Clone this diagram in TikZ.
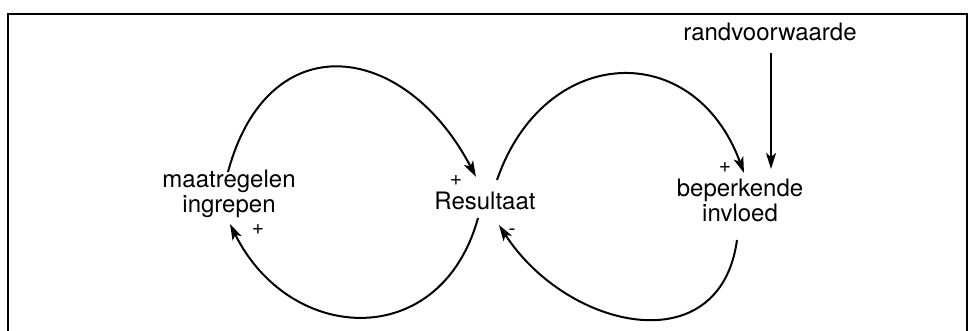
\documentclass[tikz,border=0pt]{standalone}
\usepackage{fontspec}
\setmainfont{TeX Gyre Heros}
\usetikzlibrary{arrows.meta}
\begin{document}
\begin{tikzpicture}[x=1pt,y=-1pt,
  lbl/.style={font=\fontsize{24}{25}\selectfont, inner sep=0pt, align=center},
  sgn/.style={font=\fontsize{21}{22}\selectfont, inner sep=0pt},
  link/.style={line width=2pt, -{Stealth[length=16pt,width=10pt,inset=4pt]}},
  frame/.style={line width=1.5pt}
]
\useasboundingbox (0,0) rectangle (976,331);
\fill[white] (0,0) rectangle (976,331);
\draw[frame] (8,331) -- (8,14) -- (967,14) -- (967,331);

% labels
\node[lbl] (maat) at (229,194) {maatregelen\\ingrepen};
\node[lbl, anchor=base] (res) at (485,209) {Resultaat};
\node[lbl] (bep) at (740,200) {beperkende\\invloed};
\node[lbl, anchor=base] (rand) at (770,41) {randvoorwaarde};

\node[sgn] (p1) at (456,181) {+};
\node[sgn] (p2) at (258,230) {+};
\node[sgn] (p3) at (725,168) {+};
\node[sgn] (m1) at (512,232) {-};

% connector ends
\coordinate (a1) at (228,172);
\coordinate (a2) at (476,177);
\coordinate (b1) at (478,218);
\coordinate (b2) at (230,224);
\coordinate (c1) at (497,180);
\coordinate (c2) at (744,173);
\coordinate (d1) at (737,240);
\coordinate (d2) at (499,225);
\coordinate (e1) at (771,53);
\coordinate (e2) at (771,169);

\draw[link] (a1) .. controls (268,23) and (405,41) .. (a2);
\draw[link] (b1) .. controls (441,352) and (290,345) .. (b2);
\draw[link] (c1) .. controls (544,44) and (694,37) .. (c2);
\draw[link] (d1) .. controls (720,364) and (567,330) .. (d2);
\draw[link] (e1) -- (e2);
\end{tikzpicture}
\end{document}
